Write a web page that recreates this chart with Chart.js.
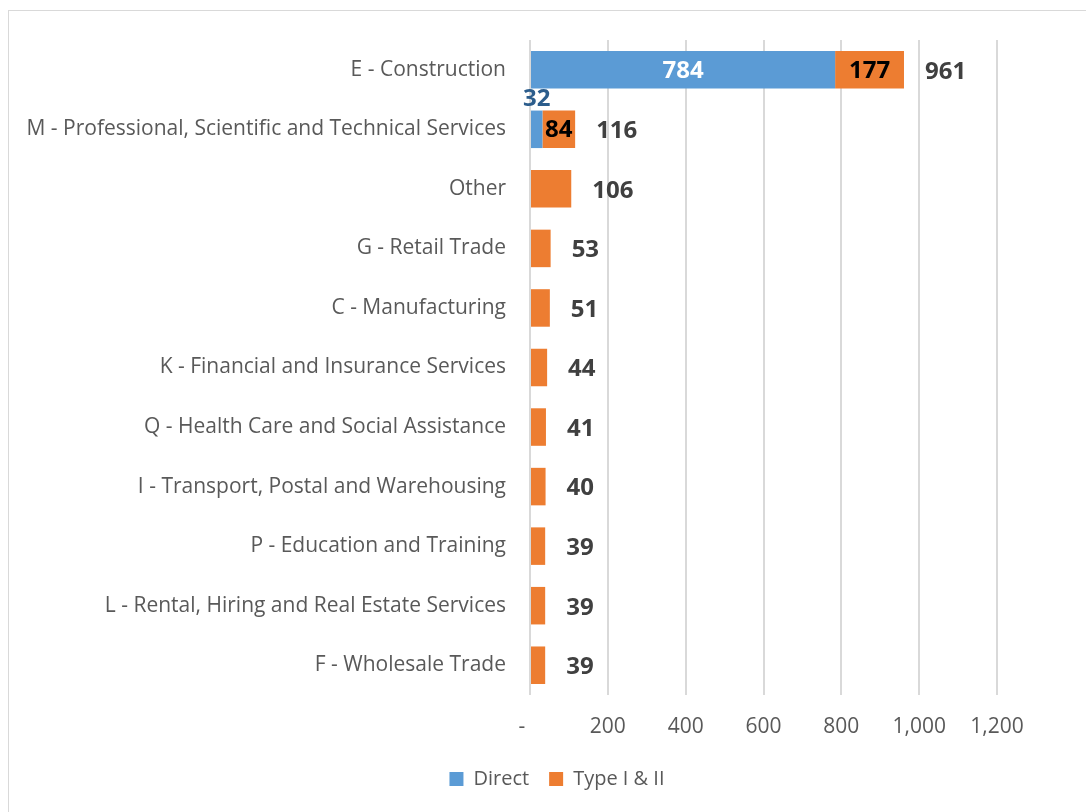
<!DOCTYPE html>
<html>
<head>
<meta charset="utf-8">
<script src="https://cdn.jsdelivr.net/npm/chart.js@4"></script>
<style>
  html, body { margin: 0; padding: 0; background: #fff; }
  #wrap { position: relative; width: 1086px; height: 812px; overflow: hidden; }
  #frame { position: absolute; left: 8px; top: 10px; width: 1200px; height: 900px; border: 1px solid #d9d9d9; }
  canvas { position: absolute; left: 0; top: 0; }
</style>
</head>
<body>
<div id="wrap">
  <div id="frame"></div>
  <canvas id="myChart" width="1086" height="812"></canvas>
</div>
<script>
const categories = [
  'E - Construction',
  'M - Professional, Scientific and Technical Services',
  'Other',
  'G - Retail Trade',
  'C - Manufacturing',
  'K - Financial and Insurance Services',
  'Q - Health Care and Social Assistance',
  'I - Transport, Postal and Warehousing',
  'P - Education and Training',
  'L - Rental, Hiring and Real Estate Services',
  'F - Wholesale Trade'
];
const directValues = [784, 32, 0, 0, 0, 0, 0, 0, 0, 0, 0];
const typeValues = [177, 84, 106, 53, 51, 44, 41, 40, 39, 39, 39];
const xMax = 1200;
const xStep = 200;

const fontFamily = '"Open Sans", Lato, sans-serif';

// draws value labels and totals like the excel original
const labelPlugin = {
  id: 'barLabels',
  afterLayout(chart) {
    // legend is centred under the plot in the original, not the whole canvas
    chart.legend.left = 117;
  },
  afterDatasetsDraw(chart) {
    const ctx = chart.ctx;
    const m0 = chart.getDatasetMeta(0).data;
    const m1 = chart.getDatasetMeta(1).data;
    ctx.save();
    ctx.font = 'bold 24px ' + fontFamily;
    ctx.textBaseline = 'middle';
    for (let i = 0; i < categories.length; i++) {
      const d = directValues[i];
      const t = typeValues[i];
      const b0 = m0[i];
      const b1 = m1[i];
      if (d > 0) {
        ctx.textAlign = 'center';
        if (b0.x - b0.base > 60) {
          ctx.fillStyle = '#ffffff';
          ctx.fillText(d, (b0.x + b0.base) / 2, b0.y + 1);
        } else {
          ctx.fillStyle = '#2c5d8c';
          ctx.fillText(d, (b0.x + b0.base) / 2, b0.y - b0.height / 2 - 11);
        }
        ctx.fillStyle = '#000000';
        ctx.fillText(t, (b1.x + b1.base) / 2, b1.y + 1);
      }
      ctx.textAlign = 'left';
      ctx.fillStyle = '#404040';
      ctx.fillText(d + t, b1.x + 21, b1.y + 2);
    }
    ctx.restore();
  }
};

const ctx = document.getElementById('myChart').getContext('2d');
const chart = new Chart(ctx, {
  type: 'bar',
  data: {
    labels: categories,
    datasets: [{
      label: 'Direct',
      data: directValues,
      backgroundColor: '#5b9bd5',
      categoryPercentage: 1,
      barPercentage: 0.63
    }, {
      label: 'Type I & II',
      data: typeValues,
      backgroundColor: '#ed7d31',
      categoryPercentage: 1,
      barPercentage: 0.63
    }]
  },
  options: {
    indexAxis: 'y',
    responsive: false,
    animation: false,
    layout: {
      padding: { left: 10, right: 89, top: 40, bottom: 13 }
    },
    plugins: {
      legend: {
        position: 'bottom',
        labels: {
          color: '#595959',
          font: { family: fontFamily, size: 20 },
          boxWidth: 14,
          boxHeight: 14,
          padding: 20
        }
      },
      tooltip: { enabled: false }
    },
    scales: {
      x: {
        stacked: true,
        min: 0,
        max: xMax,
        ticks: {
          stepSize: xStep,
          color: '#595959',
          font: { family: fontFamily, size: 21 },
          padding: 19,
          callback: function (v) { return v === 0 ? '-   ' : v.toLocaleString('en-US'); }
        },
        grid: { color: '#d9d9d9', lineWidth: 2, drawTicks: false },
        border: { display: false },
        afterFit: function (scale) { scale.height = 54; }
      },
      y: {
        stacked: true,
        ticks: {
          color: '#595959',
          font: { family: fontFamily, size: 21 },
          padding: 16
        },
        grid: { display: false },
        border: { display: false },
        afterFit: function (scale) { scale.width = 520; }
      }
    }
  },
  plugins: [labelPlugin]
});
</script>
</body>
</html>
